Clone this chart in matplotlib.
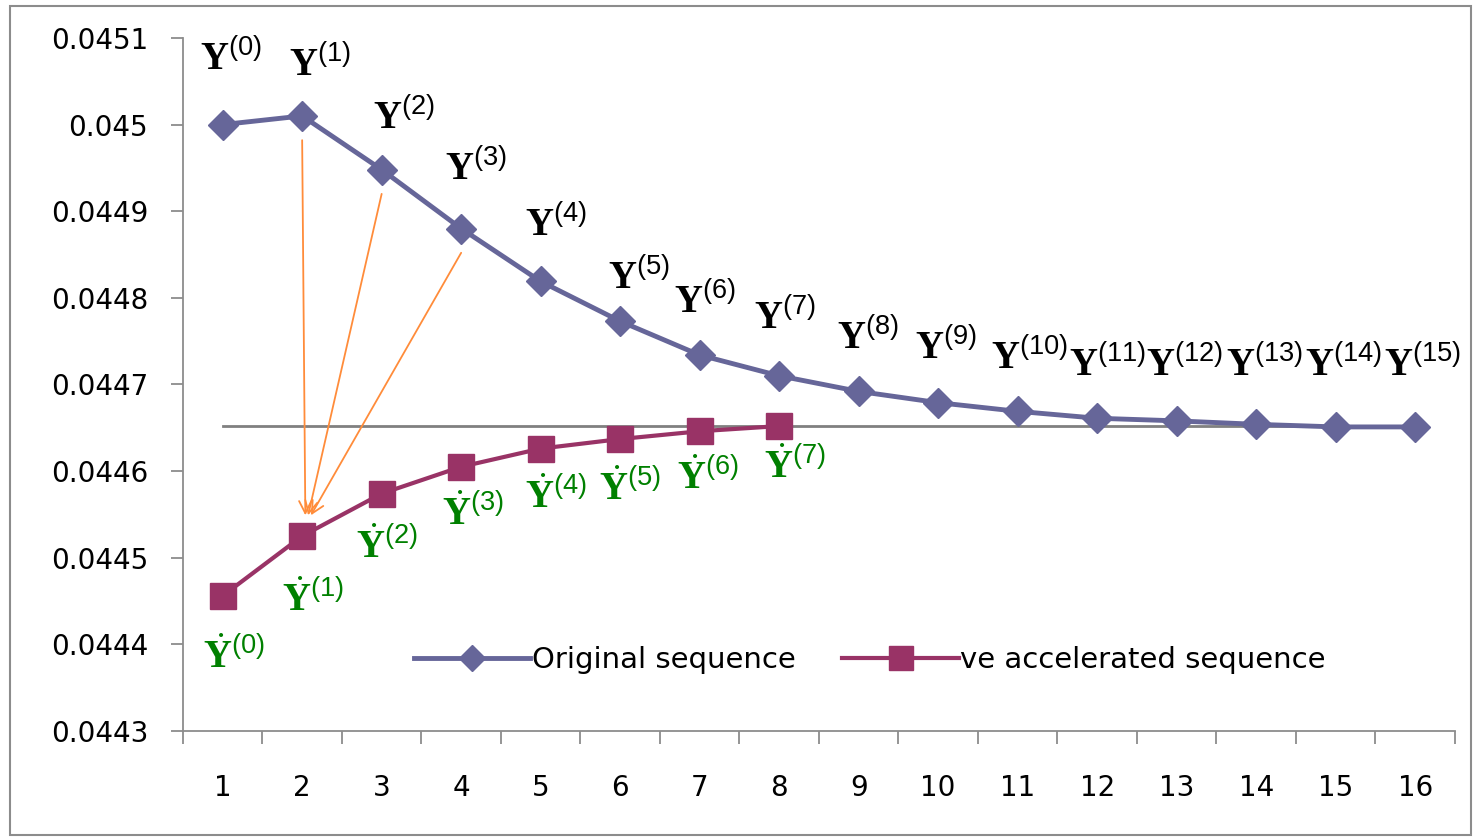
import matplotlib
matplotlib.use("Agg")
import matplotlib.pyplot as plt
from matplotlib.patches import Rectangle

# data
iters = list(range(1, 17))
original = [0.045000, 0.045010, 0.044948, 0.044880, 0.044819, 0.044773, 0.044734, 0.044710,
            0.044692, 0.044679, 0.044669, 0.044661, 0.044658, 0.044654, 0.044651, 0.044651]
accel_iters = list(range(1, 9))
accelerated = [0.044456, 0.044525, 0.044574, 0.044605, 0.044626, 0.044637, 0.044646, 0.044652]
limit_value = 0.044652
arrow_from = [2, 3, 4]   # iterations feeding accelerated point 2

# label offsets in pixels (dx, dy) relative to the points
orig_offsets = [(8, 66), (18, 51), (22, 52), (15, 59), (15, 56), (19, 43), (5, 53), (6, 58),
                (9, 53), (8, 55), (12, 53), (10, 53), (8, 56), (8, 59), (8, 62), (7, 62)]
acc_offsets = [(11, -61), (11, -63), (5, -53), (12, -47), (15, -48), (10, -50), (8, -46), (16, -41)]

plt.rcParams['font.family'] = 'DejaVu Sans'
plt.rcParams['mathtext.fontset'] = 'custom'
plt.rcParams['mathtext.rm'] = 'Liberation Serif'
plt.rcParams['mathtext.bf'] = 'Liberation Serif:bold'
plt.rcParams['mathtext.sf'] = 'Liberation Sans'

fig = plt.figure(figsize=(14.75, 8.38), dpi=100)
ax = fig.add_axes([0.124, 0.1277, 0.8624, 0.827])

# outer chart frame
fig.patches.append(Rectangle((0.007, 0.003), 0.99, 0.99, transform=fig.transFigure,
                             fill=False, edgecolor='#8c8c8c', linewidth=1.5))

ax.plot([iters[0], iters[-1]], [limit_value, limit_value], color='#808080', lw=2, zorder=1)

orig_color = '#666699'
acc_color = '#993366'
ax.plot(iters, original, color=orig_color, lw=3.5, marker='D', ms=15,
        label='Original sequence', zorder=3)
ax.plot(accel_iters, accelerated, color=acc_color, lw=3, marker='s', ms=19,
        label='ve accelerated sequence', zorder=3)

# arrows from original points to the accelerated point
for k, i in enumerate(arrow_from):
    ax.annotate('', xy=(accel_iters[1] + 0.04 + 0.035 * k, accelerated[1] + 0.000024),
                xytext=(iters[i - 1], original[i - 1] - 0.000028),
                arrowprops=dict(arrowstyle='->', color='#ff8c3a', lw=1.3,
                                mutation_scale=22, shrinkA=0, shrinkB=0), zorder=2)

px = 72 / 100
for k, (x, y) in enumerate(zip(iters, original)):
    dx, dy = orig_offsets[k]
    ax.annotate(r'$\mathbf{Y}^{\mathsf{(%d)}}$' % k, (x, y), xytext=(dx * px, dy * px),
                textcoords='offset points', ha='center', va='center', fontsize=28,
                color='black')
for k, (x, y) in enumerate(zip(accel_iters, accelerated)):
    dx, dy = acc_offsets[k]
    ax.annotate(r'$\dot{\mathbf{Y}}^{\mathsf{(%d)}}$' % k, (x, y), xytext=(dx * px, dy * px),
                textcoords='offset points', ha='center', va='center', fontsize=28,
                color='#008000')

ax.set_xlim(0.5, 16.5)
ax.set_ylim(0.0443, 0.0451)
ax.set_xticks(iters)
ax.set_xticklabels([str(i) for i in iters])
ax.set_xticks([i + 0.5 for i in range(0, 17)], minor=True)
ax.tick_params(axis='x', which='major', length=0, pad=31, labelsize=20)
ax.tick_params(axis='x', which='minor', length=9, direction='out', color='#8c8c8c', width=1.3)
ax.set_yticks([0.0443 + 0.0001 * i for i in range(9)])
ax.set_yticklabels(['0.0443', '0.0444', '0.0445', '0.0446', '0.0447', '0.0448', '0.0449',
                    '0.045', '0.0451'])
ax.tick_params(axis='y', length=9, direction='out', color='#8c8c8c', width=1.3,
               labelsize=20, pad=16)
for s in ['top', 'right']:
    ax.spines[s].set_visible(False)
for s in ['left', 'bottom']:
    ax.spines[s].set_color('#8c8c8c')
    ax.spines[s].set_linewidth(1.3)

ax.legend(loc='center', bbox_to_anchor=(0.54, 0.102), ncol=2, frameon=False,
          fontsize=21, handlelength=4, handletextpad=0.05, columnspacing=1.6,
          markerscale=0.9)

fig.savefig('out.png', dpi=100)
